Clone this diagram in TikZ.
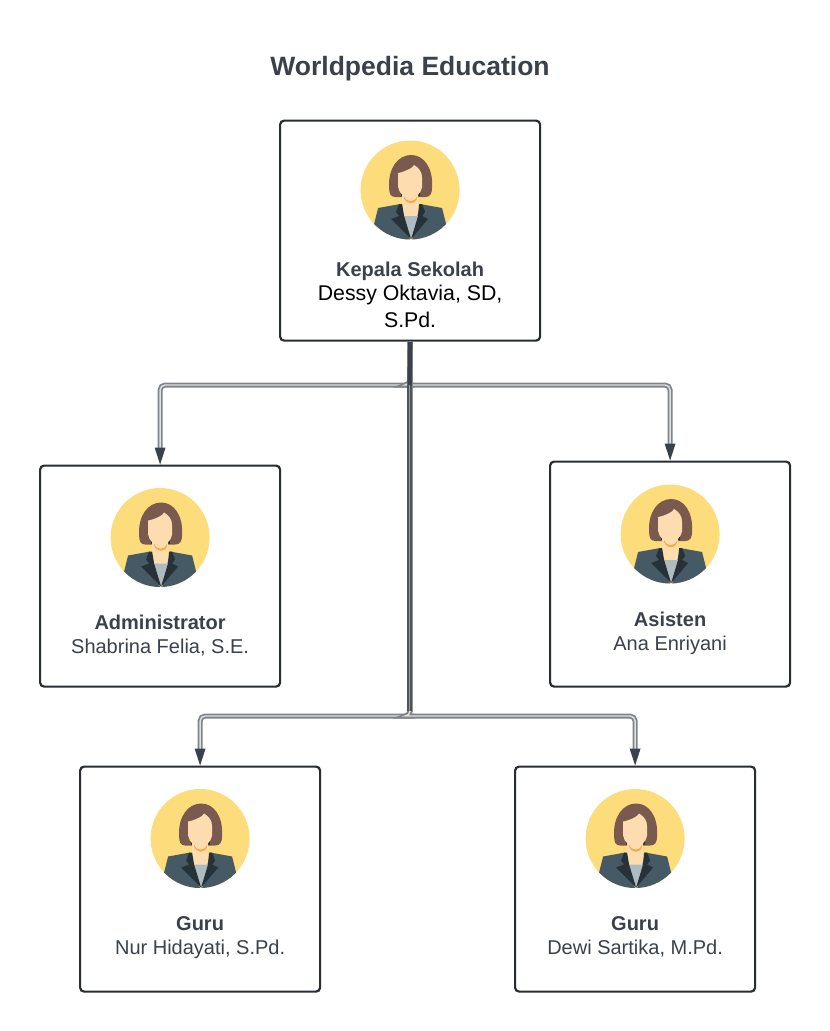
\documentclass[tikz,border=0pt]{standalone}
\usepackage{fontspec}
\setmainfont{Liberation Sans}
\usetikzlibrary{positioning,arrows.meta,calc}
\definecolor{lineink}{HTML}{282C33}
\definecolor{slate}{HTML}{3A414A}
\definecolor{wiregrey}{HTML}{7F848B}
\definecolor{skinface}{HTML}{FDDCB0}
\definecolor{hairbrown}{HTML}{7A5A4E}
\definecolor{suitblue}{HTML}{455A64}
\definecolor{suitdark}{HTML}{263238}
\definecolor{shirtgrey}{HTML}{AEBBC1}
\definecolor{collarorange}{HTML}{F9A83C}
\definecolor{badgeyellow}{HTML}{FDDC7C}
\tikzset{person/.pic={
    \fill[badgeyellow] (0,0) circle (49.5);
    \begin{scope}
      \clip (0,0) circle (49.5);
      % hair
      \fill[hairbrown] (-21,-3) .. controls (-22,-22) and (-12,-35) .. (1,-35)
        .. controls (14,-35) and (23,-22) .. (22,-3)
        .. controls (22,4) and (20,7) .. (15,7) -- (-15,7)
        .. controls (-20,7) and (-21,3) .. (-21,-3) -- cycle;
      \fill[suitdark] (-9,0) rectangle (10,6);
      % neck and collar
      \fill[skinface] (-8,2) -- (8,2) -- (8,18) -- (11,22) -- (1,48) -- (-11,22) -- (-8,18) -- cycle;
      \fill[collarorange] (-6,6) .. controls (-4,13) and (5,13) .. (7,6)
        -- (7,8) .. controls (5,15) and (-3,15) .. (-6,8) -- cycle;
      % face
      \fill[skinface] (-12,-17) .. controls (-6,-18) and (3,-22) .. (4,-25)
        .. controls (9,-22) and (12,-18) .. (12,-12)
        -- (12,-3) .. controls (11,4) and (5,8) .. (0,8)
        .. controls (-5,8) and (-11,4) .. (-12,-3) -- cycle;
      % suit
      \fill[suitblue] (-32,18) -- (-10,14) -- (0,50) -- (-40,50) -- cycle;
      \fill[suitblue] (32,18) -- (10,14) -- (2,50) -- (40,50) -- cycle;
      \fill[shirtgrey] (-7,26) -- (8,26) -- (1,50) -- cycle;
      % lapels
      \fill[suitdark] (-11,14) -- (-8,14) -- (-6,26) -- (1,49) -- (-19,29) -- (-11,26) -- (-14,22) -- cycle;
      \fill[suitdark] (12,14) -- (9,14) -- (8,26) -- (1,49) -- (18,29) -- (12,26) -- (15,22) -- cycle;
    \end{scope}
  }}
\begin{document}
\begin{tikzpicture}[
    x=1pt, y=-1pt,
    box/.style={draw=lineink, line width=2.2pt, rounded corners=4pt, fill=white, minimum width=#1, anchor=north west},
    box/.default=240pt,
    lab/.style={font=\fontsize{20}{24}\selectfont, align=center, text=slate, anchor=north},
    wire/.style={draw=wiregrey, line width=1.8pt, double=black!12, double distance=1.4pt, rounded corners=5pt}]
  \useasboundingbox (0,0) rectangle (830,1031);
  \node[font=\bfseries\fontsize{26.5}{30}\selectfont, text=slate] (title) at (410,69) {Worldpedia Education};
  % boxes
  \node[box=260pt, minimum height=220pt] (kepala) at (279,119.5) {};
  \node[box, minimum height=221pt] (admin) at (39,464.5) {};
  \node[box, minimum height=225pt] (asisten) at (549,460.5) {};
  \node[box, minimum height=225pt] (guruA) at (79,765.5) {};
  \node[box, minimum height=225pt] (guruB) at (514,765.5) {};
  % wires
  \coordinate (elbowL) at (409.5,385);
  \coordinate (elbowR) at (409.5,716);
  \draw[wire] (kepala.south) |- (elbowL) -| ([yshift=14pt]admin.north);
  \draw[wire] (kepala.south) |- (elbowL) -| ([yshift=14pt]asisten.north);
  \draw[wire] (kepala.south) |- (elbowR) -| ([yshift=14pt]guruA.north);
  \draw[wire] (kepala.south) |- (elbowR) -| ([yshift=14pt]guruB.north);
  \draw[wire, draw=slate!90, double=black!40] (elbowL) -- ([yshift=5pt]elbowR);
  \draw[slate, line width=4.5pt] (kepala.south) -- (elbowL);
  \fill[slate] (admin.north) -- ++(-5.5,-17) -- ++(11,0) -- cycle;
  \fill[slate] (asisten.north) -- ++(-5.5,-17) -- ++(11,0) -- cycle;
  \fill[slate] (guruA.north) -- ++(-5.5,-17) -- ++(11,0) -- cycle;
  \fill[slate] (guruB.north) -- ++(-5.5,-17) -- ++(11,0) -- cycle;
  % avatars
  \pic at ([yshift=-70.5pt]kepala.north) {person};
  \pic at ([yshift=-73pt]admin.north) {person};
  \pic at ([yshift=-73.5pt]asisten.north) {person};
  \pic at ([yshift=-73pt]guruA.north) {person};
  \pic at ([yshift=-73pt]guruB.north) {person};
  % labels
  \node[lab, below=138.5pt of kepala.north, anchor=north] (kepalaTxt) {\textbf{Kepala Sekolah}\\[0pt]{\color{black}\fontsize{21.3}{24}\selectfont Dessy Oktavia, SD,}\\[3pt]{\color{black}\fontsize{21.3}{24}\selectfont S.Pd.}};
  \node[lab, below=147pt of admin.north, anchor=north] (adminTxt) {\textbf{Administrator}\\Shabrina Felia, S.E.};
  \node[lab, below=148pt of asisten.north, anchor=north] (asistenTxt) {\textbf{Asisten}\\Ana Enriyani};
  \node[lab, below=147pt of guruA.north, anchor=north] (guruATxt) {\textbf{Guru}\\Nur Hidayati, S.Pd.};
  \node[lab, below=147pt of guruB.north, anchor=north] (guruBTxt) {\textbf{Guru}\\Dewi Sartika, M.Pd.};
\end{tikzpicture}
\end{document}
